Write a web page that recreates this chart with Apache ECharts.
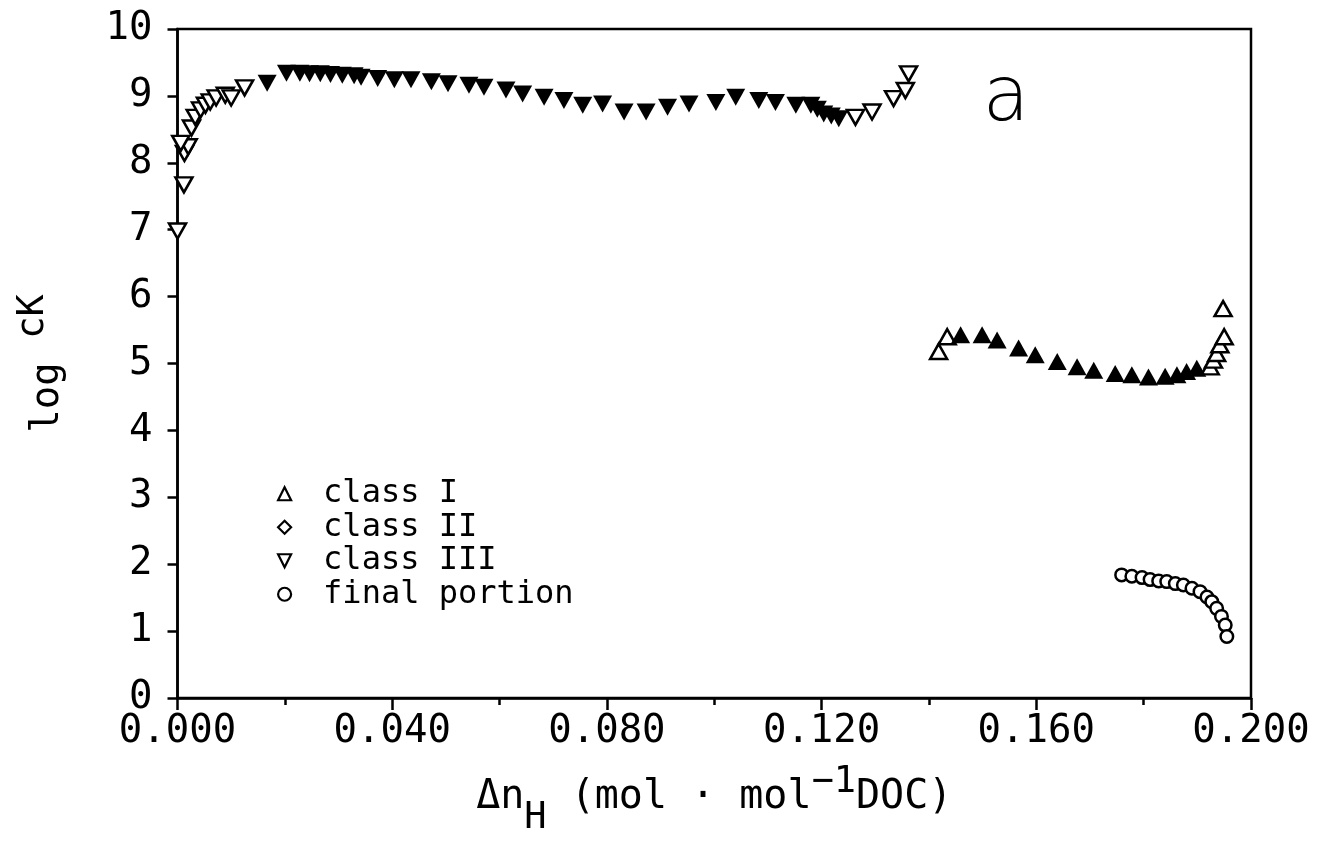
<!DOCTYPE html>
<html>
<head>
<meta charset="utf-8">
<script src="https://cdn.jsdelivr.net/npm/echarts@6/dist/echarts.min.js"></script>
<style>
html,body{margin:0;padding:0;background:#fff;}
#chart{width:1319px;height:845px;}
</style>
</head>
<body>
<div id="chart"></div>
<script>
// ---- data (x = Δn_H, y = log cK) ----
const xTicks = [0.000, 0.040, 0.080, 0.120, 0.160, 0.200];
const yTicks = [0,1,2,3,4,5,6,7,8,9,10];

const class1Open = [
  [0.1418,5.18],[0.1434,5.40],
  [0.1924,4.95],[0.1930,5.05],[0.1936,5.15],[0.1942,5.28],[0.1950,5.40],[0.1948,5.82]
];
const class1Filled = [
  [0.1459,5.43],[0.1499,5.43],[0.1527,5.35],[0.1567,5.23],[0.1598,5.13],
  [0.1639,5.03],[0.1676,4.95],[0.1707,4.90],[0.1747,4.85],[0.1778,4.83],
  [0.1809,4.80],[0.1840,4.81],[0.1862,4.83],[0.1880,4.88],[0.1899,4.93]
];
const class2 = [];
const class3Open = [
  [0.0000,6.98],[0.0012,7.67],[0.0013,8.14],[0.0020,8.24],[0.0006,8.29],
  [0.0026,8.52],[0.0033,8.68],[0.0043,8.79],[0.0052,8.86],[0.0061,8.91],
  [0.0072,8.97],[0.0089,9.01],[0.0100,8.97],[0.0125,9.12],
  [0.1263,8.68],[0.1294,8.76],[0.1334,8.96],[0.1356,9.08],[0.1362,9.33]
];
const class3Filled = [
  [0.0167,9.19],[0.0203,9.34],[0.0228,9.34],[0.0246,9.33],[0.0266,9.33],
  [0.0285,9.32],[0.0307,9.31],[0.0329,9.30],[0.0342,9.28],[0.0373,9.26],
  [0.0404,9.24],[0.0435,9.24],[0.0473,9.21],[0.0504,9.18],[0.0543,9.16],
  [0.0571,9.13],[0.0612,9.09],[0.0643,9.03],[0.0683,8.98],[0.0720,8.93],
  [0.0755,8.86],[0.0792,8.88],[0.0832,8.76],[0.0873,8.76],[0.0913,8.83],
  [0.0953,8.88],[0.1003,8.90],[0.1040,8.98],[0.1083,8.93],[0.1114,8.90],
  [0.1152,8.86],[0.1180,8.86],[0.1192,8.80],[0.1204,8.73],[0.1218,8.70],[0.1232,8.66]
];
const finalPortion = [
  [0.1759,1.84],[0.1778,1.82],[0.1797,1.80],[0.1812,1.77],[0.1828,1.75],
  [0.1843,1.74],[0.1859,1.71],[0.1874,1.69],[0.1890,1.64],[0.1905,1.59],
  [0.1918,1.51],[0.1927,1.44],[0.1936,1.34],[0.1945,1.22],[0.1952,1.09],[0.1955,0.92]
];

const FONT = '"DejaVu Sans Mono", monospace';
const openStyle = {color:'#fff', borderColor:'#000', borderWidth:2.5, opacity:1};
const fillStyle = {color:'#000', borderColor:'#000', borderWidth:0, opacity:1};
const legendOpen = {color:'#fff', borderColor:'#000', borderWidth:2.2, opacity:1};

const chart = echarts.init(document.getElementById('chart'), null, {renderer:'canvas'});
chart.setOption({
  animation:false,
  backgroundColor:'#fff',
  grid:{left:176, right:68, top:29, bottom:147, show:true, borderColor:'#000', borderWidth:2.5, backgroundColor:'transparent'},
  xAxis:{
    type:'value', min:0, max:0.2, interval:0.04,
    axisLine:{show:true, onZero:false, lineStyle:{color:'#000', width:2.5}},
    axisTick:{show:true, inside:false, length:12, lineStyle:{color:'#000', width:2.5}},
    minorTick:{show:true, splitNumber:2, length:7, lineStyle:{color:'#000', width:2.5}},
    splitLine:{show:false}, minorSplitLine:{show:false},
    axisLabel:{margin:14, color:'#000', fontFamily:FONT, fontSize:39,
      formatter:function(v){ return v.toFixed(3); }},
    name:'{n|Δn}{sub|H}{n| (mol · mol}{sup|−1}{n|DOC)}',
    nameLocation:'middle', nameGap:100,
    nameTextStyle:{color:'#000', fontFamily:FONT, fontSize:40, verticalAlign:'middle', align:'center',
      rich:{
        n:{fontFamily:FONT, fontSize:40, color:'#000', lineHeight:80},
        sub:{fontFamily:FONT, fontSize:37, color:'#000', lineHeight:80, padding:[40,0,0,0]},
        sup:{fontFamily:FONT, fontSize:37, color:'#000', lineHeight:80, padding:[0,0,32,0]}
      }}
  },
  yAxis:{
    type:'value', min:0, max:10, interval:1,
    axisLine:{show:true, onZero:false, lineStyle:{color:'#000', width:2.5}},
    axisTick:{show:true, inside:false, length:10, lineStyle:{color:'#000', width:2.5}},
    splitLine:{show:false},
    axisLabel:{margin:25, color:'#000', fontFamily:FONT, fontSize:39},
    name:'{n|log }{sup|cK}',
    nameLocation:'middle', nameGap:140, nameRotate:90,
    nameTextStyle:{color:'#000', fontFamily:FONT, fontSize:39, verticalAlign:'middle', align:'center', padding:[0,0,0,0],
      rich:{
        n:{fontFamily:FONT, fontSize:39, color:'#000', lineHeight:90, padding:[20,0,0,0]},
        sup:{fontFamily:FONT, fontSize:37, color:'#000', lineHeight:90, padding:[0,0,8,0]}
      }}
  },
  legend:{
    show:true, orient:'vertical', left:272, top:472,
    itemWidth:13, itemHeight:13, itemGap:0, selectedMode:false,
    data:[
      {name:'class I', icon:'triangle', itemStyle:legendOpen},
      {name:'class II', icon:'diamond', itemStyle:legendOpen},
      {name:'class III', icon:'path://M0,0L2,0L1,2Z', itemStyle:legendOpen},
      {name:'final portion', icon:'circle', itemStyle:legendOpen}
    ],
    textStyle:{color:'#000', fontFamily:FONT, fontSize:32, lineHeight:33.5, padding:[0,0,0,27]}
  },
  graphic:[
    {type:'text', x:1006, y:100, style:{text:'a', fontFamily:'"DejaVu Sans", sans-serif', fontWeight:200, fontSize:76, fill:'#000', align:'center', verticalAlign:'middle'}}
  ],
  series:[
    {name:'class I', type:'scatter', data:class1Open, symbol:'triangle', symbolSize:[17,15], itemStyle:openStyle, z:3},
    {name:'class I (filled)', type:'scatter', data:class1Filled, symbol:'triangle', symbolSize:[19,17], itemStyle:fillStyle, z:4},
    {name:'class II', type:'scatter', data:class2, symbol:'diamond', symbolSize:[14,14], itemStyle:openStyle},
    {name:'class III', type:'scatter', data:class3Open, symbol:'triangle', symbolRotate:180, symbolSize:[17,15], itemStyle:openStyle, z:3},
    {name:'class III (filled)', type:'scatter', data:class3Filled, symbol:'triangle', symbolRotate:180, symbolSize:[19,17], itemStyle:fillStyle, z:4},
    {name:'final portion', type:'scatter', data:finalPortion, symbol:'circle', symbolSize:12.5, itemStyle:openStyle, z:3}
  ]
});
</script>
</body>
</html>
